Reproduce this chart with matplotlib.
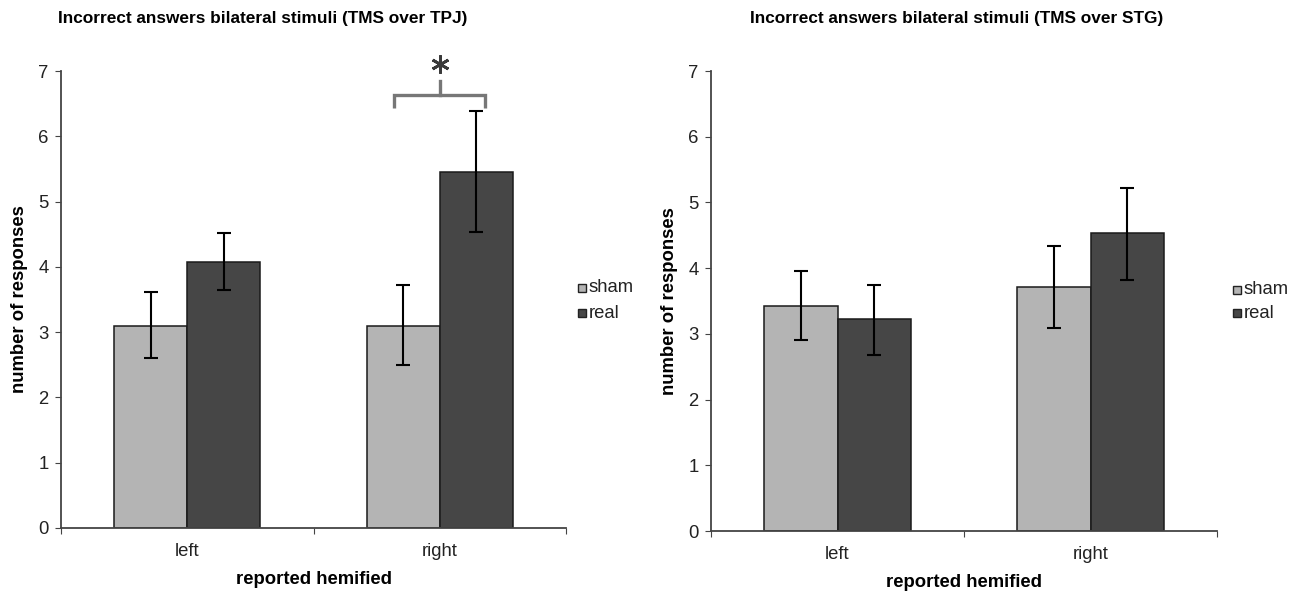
import matplotlib
matplotlib.use("Agg")
import matplotlib.pyplot as plt
import numpy as np

plt.rcParams['font.family'] = ['Liberation Sans', 'DejaVu Sans']

categories = ["left", "right"]
series = ["sham", "real"]

tpj_sham = [3.10, 3.10]
tpj_sham_lo = [2.61, 2.50]
tpj_sham_hi = [3.61, 3.72]
tpj_real = [4.07, 5.45]
tpj_real_lo = [3.64, 4.53]
tpj_real_hi = [4.52, 6.39]

stg_sham = [3.43, 3.71]
stg_sham_lo = [2.91, 3.09]
stg_sham_hi = [3.95, 4.34]
stg_real = [3.22, 4.53]
stg_real_lo = [2.68, 3.82]
stg_real_hi = [3.74, 5.22]

titles = ["Incorrect answers bilateral stimuli (TMS over TPJ)",
          "Incorrect answers bilateral stimuli (TMS over STG)"]
yticks = [0, 1, 2, 3, 4, 5, 6, 7]

col_sham = "#b4b4b4"
col_real = "#464646"
W, H = 1302, 592
fig = plt.figure(figsize=(W / 100, H / 100), dpi=100)

def ax_rect(x0, x1, ytop, ybot):
    return [x0 / W, 1 - ybot / H, (x1 - x0) / W, (ybot - ytop) / H]

axes = [fig.add_axes(ax_rect(61, 566, 71, 528)),
        fig.add_axes(ax_rect(711, 1217, 71, 531))]

data = [(tpj_sham, tpj_sham_lo, tpj_sham_hi, tpj_real, tpj_real_lo, tpj_real_hi),
        (stg_sham, stg_sham_lo, stg_sham_hi, stg_real, stg_real_lo, stg_real_hi)]

x = np.arange(len(categories))
bw = 0.29
fs = 13.3
for ax, (s, slo, shi, r, rlo, rhi) in zip(axes, data):
    s = np.array(s); r = np.array(r)
    ax.bar(x - bw / 2, s, bw, color=col_sham, edgecolor="#1a1a1a", linewidth=1.1, zorder=2)
    ax.bar(x + bw / 2, r, bw, color=col_real, edgecolor="#1a1a1a", linewidth=1.1, zorder=2)
    ax.errorbar(x - bw / 2, s, yerr=[s - np.array(slo), np.array(shi) - s], fmt="none",
                ecolor="black", elinewidth=1.5, capsize=5, capthick=1.5, zorder=3)
    ax.errorbar(x + bw / 2, r, yerr=[r - np.array(rlo), np.array(rhi) - r], fmt="none",
                ecolor="black", elinewidth=1.5, capsize=5, capthick=1.5, zorder=3)
    ax.set_xlim(-0.5, 1.5)
    ax.set_ylim(0, 7)
    ax.set_yticks(yticks)
    ax.set_yticklabels([str(t) for t in yticks], fontsize=fs, color="#222222")
    ax.set_xticks([-0.5, 0.5, 1.5])
    ax.set_xticklabels([])
    ax.set_xticks(x, minor=True)
    ax.set_xticklabels(categories, minor=True, fontsize=fs, color="#222222")
    ax.tick_params(axis="x", which="minor", length=0, pad=11)
    ax.tick_params(axis="x", which="major", length=4, direction="out", color="#444444")
    ax.tick_params(axis="y", length=4, direction="out", color="#444444", pad=5)
    for sp in ["top", "right"]:
        ax.spines[sp].set_visible(False)
    for sp in ["left", "bottom"]:
        ax.spines[sp].set_color("#444444")
        ax.spines[sp].set_linewidth(1.3)
    ax.set_ylabel("number of responses", fontsize=fs, fontweight="bold", labelpad=7)
    ax.set_xlabel("reported hemified", fontsize=fs, fontweight="bold", labelpad=8)

# titles
fig.text(263 / W, 1 - 18 / H, titles[0], ha="center", va="center", fontsize=12.4, fontweight="bold")
fig.text(957 / W, 1 - 18 / H, titles[1], ha="center", va="center", fontsize=12.4, fontweight="bold")

# legends
for (lx, ly0, ly1) in [(582, 288, 313), (1237, 290, 313)]:
    for ly, c, lab in [(ly0, col_sham, "sham"), (ly1, col_real, "real")]:
        fig.patches.append(plt.Rectangle(((lx - 4) / W, 1 - (ly + 4) / H), 8 / W, 8 / H,
                                         transform=fig.transFigure, facecolor=c,
                                         edgecolor="#222222", linewidth=1.0))
        fig.text((lx + 7) / W, 1 - ly / H, lab, ha="left", va="center", fontsize=fs, color="#222222")

# significance bracket on TPJ panel, right category
ax = axes[0]
xl = 1 - 0.18
xr = 1 + 0.18
ax.plot([xl, xl, xr, xr], [6.43, 6.63, 6.63, 6.43], color="#777777", lw=2.4,
        clip_on=False, solid_capstyle="butt", solid_joinstyle="miter")
ax.plot([1, 1], [6.63, 6.85], color="#777777", lw=2.4, clip_on=False)
ax.plot([1], [7.11], marker=(6, 2, 0), markersize=13, mew=2.0, color="#3a3a3a", clip_on=False)

fig.savefig("out.png", dpi=100, facecolor="white")
